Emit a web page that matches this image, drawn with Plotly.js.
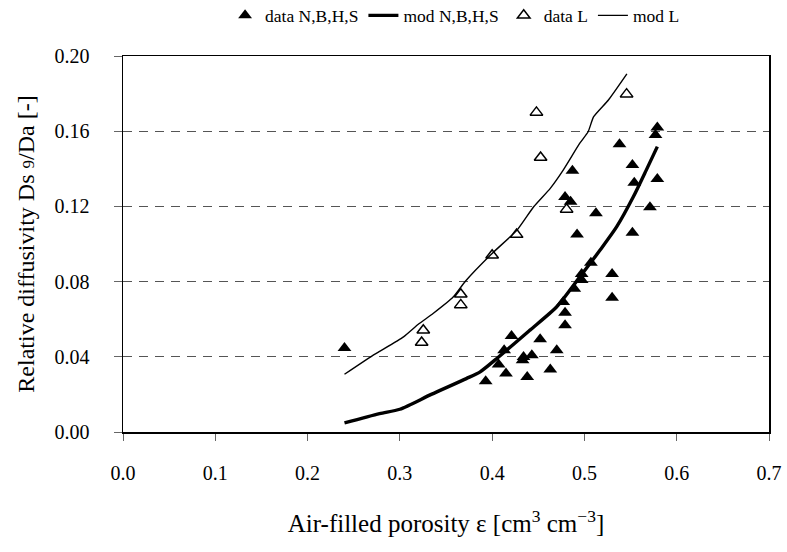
<!DOCTYPE html>
<html>
<head>
<meta charset="utf-8">
<script src="https://cdn.plot.ly/plotly-3.0.1.min.js"></script>
<style>html,body{margin:0;padding:0;background:#fff;}#chart{width:787px;height:552px;}</style>
</head>
<body>
<div id="chart"></div>
<script>
// data N,B,H,S (filled triangles)
const dataNBHS_x = [0.240, 0.579, 0.577, 0.538, 0.552, 0.487, 0.554, 0.579, 0.479, 0.485, 0.571, 0.5125, 0.492, 0.552, 0.507, 0.497, 0.497, 0.489, 0.530, 0.530, 0.477, 0.479, 0.479, 0.421, 0.452, 0.413, 0.470, 0.434, 0.443, 0.433, 0.407, 0.415, 0.438, 0.463, 0.393];
const dataNBHS_y = [0.0447, 0.162, 0.158, 0.153, 0.142, 0.139, 0.1326, 0.1346, 0.125, 0.1225, 0.1195, 0.1163, 0.105, 0.106, 0.090, 0.084, 0.0808, 0.0762, 0.084, 0.0714, 0.0692, 0.0634, 0.0568, 0.0511, 0.0494, 0.0435, 0.0435, 0.0399, 0.0408, 0.0382, 0.0359, 0.0311, 0.0293, 0.0332, 0.0270];
// model N,B,H,S (thick line)
const modNBHS_x = [0.240, 0.278, 0.300, 0.334, 0.372, 0.387, 0.407, 0.441, 0.470, 0.495, 0.517, 0.535, 0.553, 0.567, 0.579];
const modNBHS_y = [0.0048, 0.0098, 0.0121, 0.0200, 0.0284, 0.0320, 0.0399, 0.0542, 0.0666, 0.0825, 0.0968, 0.1092, 0.1251, 0.1393, 0.1518];
// data L (open triangles)
const dataL_x = [0.448, 0.4525, 0.4807, 0.4265, 0.400, 0.366, 0.366, 0.3254, 0.3236, 0.5457];
const dataL_y = [0.170, 0.146, 0.1184, 0.105, 0.094, 0.0733, 0.0676, 0.0541, 0.0476, 0.1797];
// model L (thin line)
const modL_x = [0.240, 0.270, 0.304, 0.320, 0.336, 0.358, 0.371, 0.400, 0.427, 0.445, 0.463, 0.477, 0.495, 0.504, 0.510, 0.526, 0.546];
const modL_y = [0.0307, 0.0405, 0.0506, 0.0573, 0.0630, 0.0719, 0.0802, 0.0950, 0.1074, 0.1198, 0.1296, 0.1393, 0.1536, 0.1597, 0.1677, 0.1766, 0.1905];

const xTickVals = [0, 0.1, 0.2, 0.3, 0.4, 0.5, 0.6, 0.7];
const yTickVals = [0, 0.04, 0.08, 0.12, 0.16, 0.20];

const FONT = 'Liberation Serif, Times New Roman, serif';

const traces = [
  {x: dataNBHS_x, y: dataNBHS_y, mode: 'markers', name: 'data N,B,H,S', type: 'scatter',
   marker: {symbol: 'triangle-up', size: 12, color: '#000'}},
  {x: modNBHS_x, y: modNBHS_y, mode: 'lines', name: 'mod N,B,H,S', type: 'scatter',
   line: {color: '#000', width: 3.4, shape: 'spline', smoothing: 0.7}},
  {x: dataL_x, y: dataL_y, mode: 'markers', name: 'data L', type: 'scatter',
   marker: {symbol: 'triangle-up-open', size: 11, color: '#000', line: {width: 1.5, color: '#000'}}},
  {x: modL_x, y: modL_y, mode: 'lines', name: 'mod L', type: 'scatter',
   line: {color: '#000', width: 1.4, shape: 'spline', smoothing: 0.5}}
];

const layout = {
  width: 787, height: 552,
  margin: {l: 123, r: 18, t: 56, b: 120},
  paper_bgcolor: '#fff', plot_bgcolor: '#fff',
  font: {family: FONT, size: 20, color: '#000'},
  showlegend: true,
  legend: {orientation: 'h', xref: 'container', yref: 'container', x: 0.286, xanchor: 'left', y: 0.972, yanchor: 'middle',
           font: {family: FONT, size: 17.5, color: '#000'}, itemwidth: 30, bgcolor: 'rgba(0,0,0,0)',
           borderwidth: 0},
  xaxis: {range: [0, 0.7], tickvals: xTickVals, tickformat: '.1f',
          showline: true, mirror: true, linecolor: '#000', linewidth: 1.5,
          ticks: 'outside', ticklen: 7, tickcolor: '#666', tickwidth: 1,
          ticklabelstandoff: 15, showgrid: false, zeroline: false,
          tickfont: {family: FONT, size: 20},
          title: {text: 'Air-filled porosity ε [cm<sup>3</sup> cm<sup>−3</sup>]', font: {family: FONT, size: 25}, standoff: 32}},
  yaxis: {range: [0, 0.2], tickvals: yTickVals, tickformat: '.2f',
          showline: true, mirror: true, linecolor: '#000', linewidth: 1.5,
          ticks: 'outside', ticklen: 8, tickcolor: '#666', tickwidth: 1,
          ticklabelstandoff: 20, showgrid: true, gridcolor: '#555', gridwidth: 1, griddash: '9px,7px',
          zeroline: false, tickfont: {family: FONT, size: 20},
          title: {text: 'Relative diffusivity Ds <span style="font-size:17px">9</span>/Da [-]', font: {family: FONT, size: 24}, standoff: 13}}
};

Plotly.newPlot('chart', traces, layout, {displayModeBar: false, staticPlot: true});
</script>
</body>
</html>
